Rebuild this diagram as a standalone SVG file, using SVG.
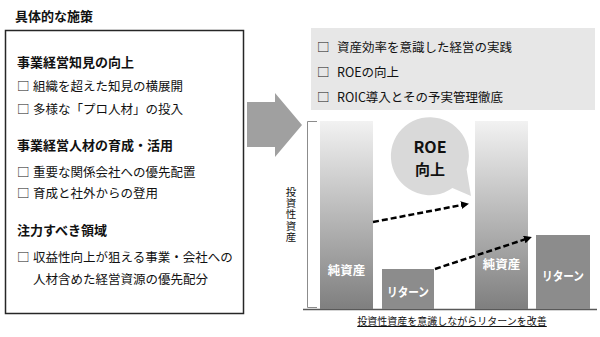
<svg xmlns="http://www.w3.org/2000/svg" width="600" height="337" viewBox="0 0 600 337">
<style>
text{font-family:"Noto Sans CJK JP","Noto Sans",sans-serif;fill:#111111}
.t{font-size:12.5px}
.h{font-size:13px;font-weight:bold}
.w{font-size:12.5px;font-weight:bold;fill:#ffffff}
.dash{stroke:#000;stroke-width:2.5;stroke-dasharray:6 3;fill:none}
</style>
<defs>
<linearGradient id="g1" x1="0" y1="0" x2="0" y2="1">
<stop offset="0" stop-color="#f2f2f2"/>
<stop offset="1" stop-color="#7f7f7f"/>
</linearGradient>
<marker id="ah" markerWidth="8" markerHeight="8" refX="5" refY="4" orient="auto" markerUnits="userSpaceOnUse">
<path d="M0,0 L8,4 L0,8 Z" fill="#000"/>
</marker>
</defs>
<rect width="600" height="337" fill="#fff"/>

<g id="title"><text class="h" x="15" y="21">具体的な施策</text></g>

<g id="left-box">
<rect x="5.5" y="30.5" width="238" height="283" fill="#fff" stroke="#262626" stroke-width="1.5"/>
<text class="h" x="17" y="67">事業経営知見の向上</text>
<text class="t" y="91"><tspan x="17">□</tspan><tspan x="33">組織を超えた知見の横展開</tspan></text>
<text class="t" y="114"><tspan x="17">□</tspan><tspan x="33">多様な「プロ人材」の投入</tspan></text>
<text class="h" x="17" y="150">事業経営人材の育成・活用</text>
<text class="t" y="177"><tspan x="17">□</tspan><tspan x="33">重要な関係会社への優先配置</tspan></text>
<text class="t" y="198"><tspan x="17">□</tspan><tspan x="33">育成と社外からの登用</tspan></text>
<text class="h" x="17" y="235">注力すべき領域</text>
<text class="t" y="262"><tspan x="17">□</tspan><tspan x="33">収益性向上が狙える事業・会社への</tspan></text>
<text class="t" x="33" y="284">人材含めた経営資源の優先配分</text>
</g>

<g id="big-arrow">
<polygon points="247,102 275,102 275,93 302,125 275,157 275,147 247,147" fill="#a0a0a0"/>
</g>

<g id="goals">
<rect x="311" y="28" width="284" height="82" fill="#e7e7e7"/>
<text class="t" y="52"><tspan x="317">□</tspan><tspan x="337">資産効率を意識した経営の実践</tspan></text>
<text class="t" y="77"><tspan x="317">□</tspan><tspan x="337">ROEの向上</tspan></text>
<text class="t" y="102"><tspan x="317">□</tspan><tspan x="337">ROIC導入とその予実管理徹底</tspan></text>
</g>

<g id="chart-frame">
<path d="M317,121.5 H307.5 V307.5 H317" fill="none" stroke="#8c8c8c" stroke-width="1"/>
<line x1="303" y1="309.5" x2="597" y2="309.5" stroke="#595959" stroke-width="1.5"/>
<text x="291" y="187" style="font-size:10.5px;writing-mode:vertical-rl;letter-spacing:0.6px">投資性資産</text>
</g>

<g id="bar-equity-before">
<rect x="320" y="121" width="53" height="188" fill="url(#g1)"/>
<text class="w" x="346.5" y="275" text-anchor="middle">純資産</text>
</g>
<g id="bar-return-before">
<rect x="382" y="269" width="52" height="40" fill="#8c8c8c"/>
<text class="w" x="408" y="297" text-anchor="middle" textLength="42" lengthAdjust="spacingAndGlyphs">リターン</text>
</g>
<g id="bar-equity-after">
<rect x="475" y="121" width="53" height="188" fill="url(#g1)"/>
<text class="w" x="501.5" y="269" text-anchor="middle">純資産</text>
</g>
<g id="bar-return-after">
<rect x="536" y="235" width="54" height="74" fill="#8c8c8c"/>
<text class="w" x="563" y="281" text-anchor="middle" textLength="42" lengthAdjust="spacingAndGlyphs">リターン</text>
</g>

<g id="bubble">
<path d="M452.4,188 L471,196 L466.6,169.3 A39,39 0 1 0 452.4,188 Z" fill="#d9d9d9"/>
<text x="430" y="153" text-anchor="middle" style="font-size:16px;font-weight:bold">ROE</text>
<text x="430" y="175" text-anchor="middle" style="font-size:15px;font-weight:bold">向上</text>
</g>

<g id="connectors">
<line class="dash" x1="373" y1="222" x2="466" y2="204.2" marker-end="url(#ah)"/>
<line class="dash" x1="435" y1="269" x2="529" y2="238" marker-end="url(#ah)"/>
</g>

<g id="caption">
<text x="452" y="325" text-anchor="middle" style="font-size:10px;text-decoration:underline">投資性資産を意識しながらリターンを改善</text>
</g>
</svg>
